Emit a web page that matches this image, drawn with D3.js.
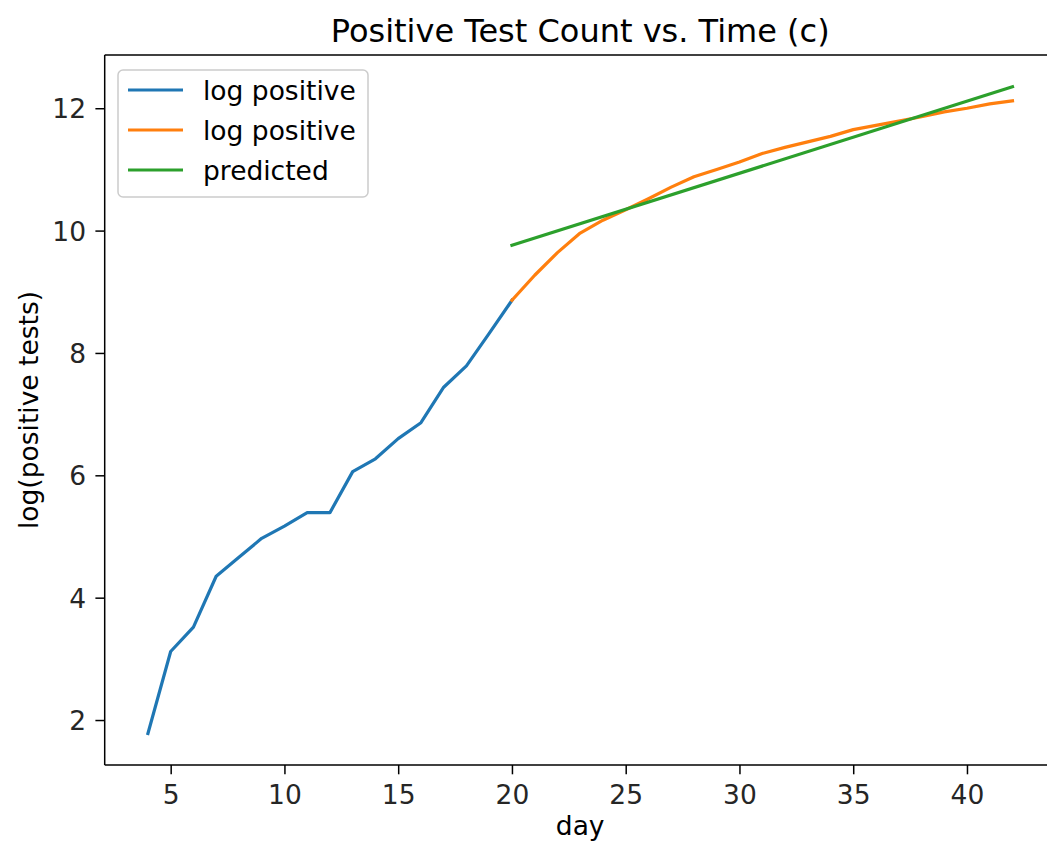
<!DOCTYPE html>
<html>
<head>
<meta charset="utf-8">
<script src="https://cdn.jsdelivr.net/npm/d3@7"></script>
<style>
  html, body { margin: 0; padding: 0; background: #fff; }
  svg { display: block; font-family: "DejaVu Sans", sans-serif; }
</style>
</head>
<body>
<svg id="chart" width="1047" height="844"></svg>
<script>
// ---- data ----
const blueDays = [4,5,6,7,8,9,10,11,12,13,14,15,16,17,18,19,20];
const blueValues = [1.78,3.12,3.52,4.35,4.66,4.97,5.17,5.39,5.39,6.06,6.27,6.60,6.86,7.44,7.79,8.32,8.86];
const orangeDays = [20,21,22,23,24,25,26,27,28,29,30,31,32,33,34,35,36,37,38,39,40,41,42];
const orangeValues = [8.86,9.27,9.64,9.96,10.17,10.34,10.52,10.71,10.88,11.00,11.12,11.26,11.36,11.45,11.54,11.65,11.72,11.79,11.86,11.94,12.00,12.07,12.12];
const predDays = [20,42];
const predValues = [9.76,12.35];
const xTicks = [5,10,15,20,25,30,35,40];
const yTicks = [2,4,6,8,10,12];
const seriesNames = ["log positive","log positive","predicted"];
const seriesColors = ["#1f77b4","#ff7f0e","#2ca02c"];

// ---- layout ----
const L = 104.7, R = 1055.7, T = 55, B = 765;
const svg = d3.select("#chart");

const x = d3.scaleLinear().domain([2.1, 43.9]).range([L, R]);
const y = d3.scaleLinear().domain([1.265, 12.87]).range([B, T]);

// lines
const line = d3.line().x(d => x(d[0])).y(d => y(d[1]));
const series = [
  d3.zip(blueDays, blueValues),
  d3.zip(orangeDays, orangeValues),
  d3.zip(predDays, predValues)
];
series.forEach((s, i) => {
  svg.append("path").datum(s)
    .attr("d", line)
    .attr("fill", "none")
    .attr("stroke", seriesColors[i])
    .attr("stroke-width", 3.2)
    .attr("stroke-linejoin", "round")
    .attr("stroke-linecap", "square");
});

// axes
const tickLen = 9.3, tickPad = 9.3, fs = 26.5;
const xAxis = d3.axisBottom(x).tickValues(xTicks).tickSize(tickLen).tickPadding(tickPad).tickFormat(d3.format("d"));
const yAxis = d3.axisLeft(y).tickValues(yTicks).tickSize(tickLen).tickPadding(tickPad).tickFormat(d3.format("d"));

const gx = svg.append("g").attr("transform", `translate(0,${B})`).call(xAxis);
const gy = svg.append("g").attr("transform", `translate(${L},0)`).call(yAxis);
[gx, gy].forEach(g => {
  g.select(".domain").remove();
  g.selectAll(".tick line").attr("stroke", "#000").attr("stroke-width", 1.5);
  g.selectAll(".tick text").attr("fill", "#262626").style("font-size", fs + "px").style("font-family", "DejaVu Sans");
});
gx.selectAll(".tick text").attr("dy", null).attr("y", tickLen + tickPad).attr("dominant-baseline", "hanging");
gy.selectAll(".tick text").attr("dy", "0.36em");

// spines
const sp = svg.append("g").attr("stroke", "#000").attr("stroke-width", 1.5);
sp.append("line").attr("x1", L).attr("x2", L).attr("y1", T).attr("y2", B);
sp.append("line").attr("x1", L).attr("x2", R).attr("y1", B).attr("y2", B);
sp.append("line").attr("x1", L).attr("x2", R).attr("y1", T).attr("y2", T);
sp.append("line").attr("x1", R).attr("x2", R).attr("y1", T).attr("y2", B);

// title and axis labels
svg.append("text").attr("x", (L + R) / 2).attr("y", 42)
  .attr("text-anchor", "middle").style("font-size", "32px").attr("fill", "#000")
  .text("Positive Test Count vs. Time (c)");
svg.append("text").attr("x", (L + R) / 2).attr("y", 835)
  .attr("text-anchor", "middle").style("font-size", fs + "px").attr("fill", "#000")
  .text("day");
svg.append("text").attr("transform", `translate(38,${(T + B) / 2}) rotate(-90)`)
  .attr("text-anchor", "middle").style("font-size", fs + "px").attr("fill", "#000")
  .text("log(positive tests)");

// legend
const lg = svg.append("g").attr("transform", "translate(118,70)");
lg.append("rect").attr("width", 250).attr("height", 127).attr("rx", 5).attr("ry", 5)
  .attr("fill", "#fff").attr("fill-opacity", 0.8).attr("stroke", "#cccccc").attr("stroke-width", 1.5);
seriesNames.forEach((name, i) => {
  const cy = 20 + i * 40;
  lg.append("line").attr("x1", 10).attr("x2", 65).attr("y1", cy).attr("y2", cy)
    .attr("stroke", seriesColors[i]).attr("stroke-width", 3.2);
  lg.append("text").attr("x", 85).attr("y", cy).attr("dy", "0.36em")
    .style("font-size", fs + "px").attr("fill", "#000").text(name);
});
</script>
</body>
</html>
